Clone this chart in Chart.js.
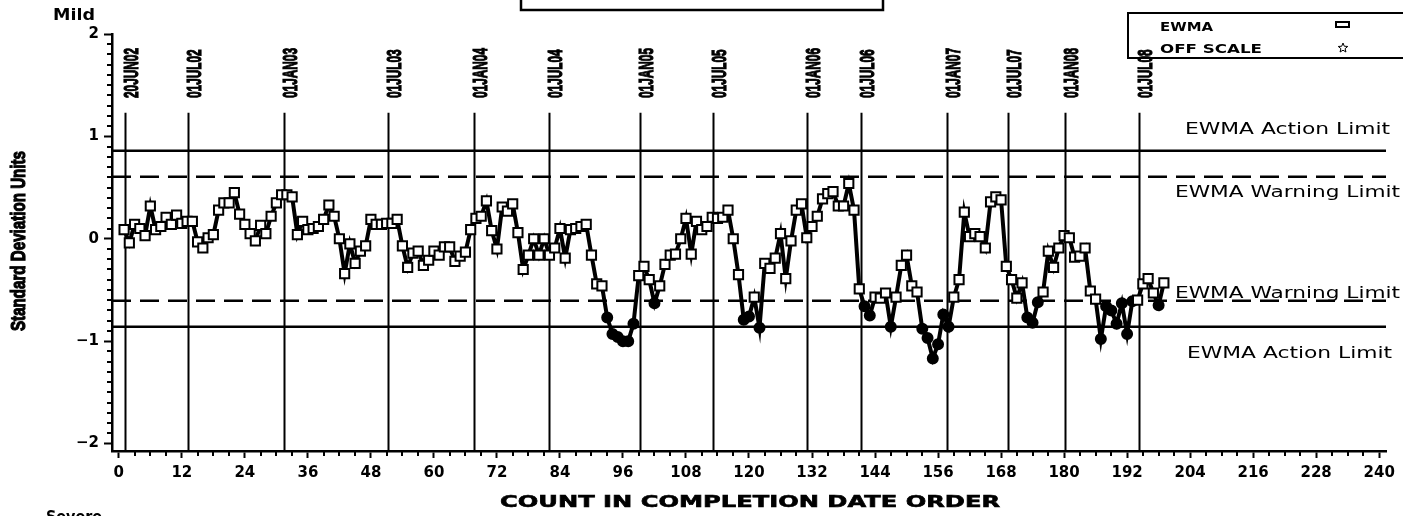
<!DOCTYPE html>
<html><head><meta charset="utf-8">
<script src="https://cdn.jsdelivr.net/npm/chart.js@4.4.1/dist/chart.umd.min.js"></script>
<style>html,body{margin:0;padding:0;background:#fff;overflow:hidden}#wrap{width:1403px;height:516px;position:relative}</style>
</head><body><div id="wrap"><canvas id="c" width="1403" height="516"></canvas></div>
<script>
// ---- data ----
const ewmaValues = [
 0.09,-0.04,0.14,0.10,0.03,0.32,0.09,0.12,0.21,0.14,
 0.23,0.15,0.17,0.17,-0.03,-0.09,0.01,0.04,0.28,0.35,
 0.35,0.45,0.24,0.14,0.05,-0.02,0.13,0.05,0.22,0.35,
 0.43,0.43,0.41,0.04,0.17,0.09,0.10,0.12,0.19,0.33,
 0.22,0.00,-0.34,-0.05,-0.24,-0.12,-0.07,0.19,0.14,0.14,
 0.15,0.15,0.19,-0.07,-0.28,-0.14,-0.12,-0.26,-0.21,-0.12,
 -0.16,-0.08,-0.08,-0.22,-0.17,-0.13,0.09,0.20,0.22,0.37,
 0.08,-0.10,0.31,0.27,0.34,0.06,-0.30,-0.16,0.00,-0.16,
 0.00,-0.16,-0.09,0.10,-0.19,0.09,0.10,0.12,0.14,-0.16,
 -0.44,-0.46,-0.77,-0.93,-0.96,-1.00,-1.00,-0.83,-0.36,-0.27,
 -0.40,-0.63,-0.46,-0.25,-0.16,-0.15,0.00,0.20,-0.15,0.17,
 0.09,0.12,0.21,0.20,0.21,0.28,0.00,-0.35,-0.79,-0.76,
 -0.57,-0.87,-0.24,-0.29,-0.19,0.05,-0.39,-0.02,0.28,0.34,
 0.01,0.12,0.22,0.39,0.44,0.46,0.32,0.32,0.54,0.28,
 -0.49,-0.66,-0.75,-0.57,-0.58,-0.53,-0.86,-0.57,-0.26,-0.16,
 -0.46,-0.52,-0.88,-0.97,-1.17,-1.03,-0.74,-0.86,-0.57,-0.40,
 0.26,0.02,0.05,0.02,-0.09,0.36,0.41,0.38,-0.27,-0.40,
 -0.58,-0.43,-0.77,-0.82,-0.62,-0.52,-0.12,-0.28,-0.09,0.03,
 0.01,-0.18,-0.17,-0.09,-0.51,-0.59,-0.98,-0.66,-0.70,-0.83,
 -0.63,-0.93,-0.61,-0.60,-0.44,-0.39,-0.53,-0.65,-0.43
];
const xTickValues = [0,12,24,36,48,60,72,84,96,108,120,132,144,156,168,180,192,204,216,228,240];
const yTickValues = [-2,-1,0,1,2];
const dateLabels = ['20JUN02','01JUL02','01JAN03','01JUL03','01JAN04','01JUL04','01JAN05','01JUL05','01JAN06','01JUL06','01JAN07','01JUL07','01JAN08','01JUL08'];
const dateCounts = [1.1,13.1,31.5,51.2,67.6,82,99.3,113.2,131,141.3,157.7,169.4,180.2,194.3];
const actionLimit = 0.86;
const warningLimit = 0.605;
const limitLabels = ['EWMA Action Limit','EWMA Warning Limit','EWMA Warning Limit','EWMA Action Limit'];
const legendLabels = ['EWMA','OFF SCALE'];
const xTitle = 'COUNT IN COMPLETION DATE ORDER';
const yTitle = 'Standard Deviation Units';

const X_MIN = -1.3, X_MAX = 241.3, Y_MIN = -2.073, Y_MAX = 2.0;

function fitText(ctx, text, x, y, font, width, align, baseline, rot, heavy) {
  ctx.save();
  ctx.translate(x, y);
  if (rot) ctx.rotate(rot);
  ctx.font = font;
  const w = ctx.measureText(text).width;
  ctx.scale(width / w, 1);
  ctx.textAlign = align; ctx.textBaseline = baseline;
  ctx.fillStyle = '#000';
  ctx.fillText(text, 0, 0);
  if (heavy) { ctx.strokeStyle = '#000'; ctx.lineWidth = heavy; ctx.strokeText(text, 0, 0); }
  ctx.restore();
}

const isOut = v => v < -warningLimit || v > warningLimit;

const decor = {
  id: 'decor',
  beforeDatasetsDraw(chart) {
    const ctx = chart.ctx, xs = chart.scales.x, ys = chart.scales.y, ca = chart.chartArea;
    ctx.save();
    // minor ticks
    ctx.strokeStyle = '#000'; ctx.lineWidth = 2;
    ctx.beginPath();
    for (let v = 3; v < 241; v += 3) {
      if (v % 12 === 0) continue;
      const px = Math.round(xs.getPixelForValue(v));
      ctx.moveTo(px, ca.bottom); ctx.lineTo(px, ca.bottom + 5);
    }
    for (let k = -20; k <= 20; k++) {
      if (k % 10 === 0) continue;
      const py = Math.round(ys.getPixelForValue(k / 10));
      ctx.moveTo(ca.left, py); ctx.lineTo(ca.left - 5, py);
    }
    ctx.stroke();
    // date reference lines
    const topY = ys.getPixelForValue(1.23);
    ctx.lineWidth = 2;
    dateCounts.forEach((c, i) => {
      const px = Math.round(xs.getPixelForValue(c)) + 0.5;
      ctx.beginPath(); ctx.moveTo(px, topY); ctx.lineTo(px, ca.bottom); ctx.stroke();
    });
    // limit labels
    const lf = '16px "DejaVu Sans"';
    const rx = ca.right + 4;
    fitText(ctx, limitLabels[0], rx, ys.getPixelForValue(actionLimit) - 21, lf, 205, 'right', 'middle');
    fitText(ctx, limitLabels[1], rx + 10, ys.getPixelForValue(warningLimit) + 16, lf, 225, 'right', 'middle');
    fitText(ctx, limitLabels[2], rx + 10, ys.getPixelForValue(-warningLimit) - 7, lf, 225, 'right', 'middle');
    fitText(ctx, limitLabels[3], rx + 2, ys.getPixelForValue(-actionLimit) + 27, lf, 205, 'right', 'middle');
    ctx.restore();
  },
  afterDraw(chart) {
    const ctx = chart.ctx, xs = chart.scales.x, ys = chart.scales.y, ca = chart.chartArea;
    ctx.save();
    ctx.fillStyle = '#000'; ctx.strokeStyle = '#000';
    // legend box
    ctx.lineWidth = 2;
    ctx.strokeRect(1128, 13, 290, 45);
    fitText(ctx, legendLabels[0], 1160, 28, 'bold 12px "DejaVu Sans"', 53, 'left', 'middle');
    fitText(ctx, legendLabels[1], 1160, 50, 'bold 12px "DejaVu Sans"', 102, 'left', 'middle');
    ctx.lineWidth = 2;
    ctx.strokeRect(1336, 22, 13, 5);
    // star
    ctx.lineWidth = 1;
    ctx.beginPath();
    const scx = 1343, scy = 48;
    for (let i = 0; i < 10; i++) {
      const r = i % 2 === 0 ? 5 : 2.2;
      const a = -Math.PI / 2 + i * Math.PI / 5;
      const px = scx + r * Math.cos(a), py = scy + r * Math.sin(a);
      i === 0 ? ctx.moveTo(px, py) : ctx.lineTo(px, py);
    }
    ctx.closePath(); ctx.stroke();
    // top title box (cut off)
    ctx.lineWidth = 2.5;
    ctx.beginPath();
    ctx.moveTo(521, -5); ctx.lineTo(521, 10); ctx.lineTo(883, 10); ctx.lineTo(883, -5);
    ctx.stroke();
    // date labels (condensed, heavy)
    ctx.font = 'bold 21px "Liberation Sans"';
    const sc = 50 / ctx.measureText('01JAN03').width;
    dateCounts.forEach((c, i) => {
      const px = xs.getPixelForValue(c) + 13;
      ctx.save();
      ctx.translate(px, 98);
      ctx.rotate(-Math.PI / 2);
      ctx.scale(sc, 1);
      ctx.textAlign = 'left'; ctx.textBaseline = 'alphabetic';
      ctx.fillText(dateLabels[i], 0, 0);
      ctx.lineWidth = 1.2; ctx.strokeText(dateLabels[i], 0, 0);
      ctx.restore();
    });
    // Mild / Severe
    fitText(ctx, 'Mild', 53, 16, 'bold 15px "DejaVu Sans"', 42, 'left', 'middle');
    fitText(ctx, 'Severe', 46, 518, 'bold 15px "DejaVu Sans"', 56, 'left', 'middle');
    // axis titles
    fitText(ctx, xTitle, (ca.left + ca.right) / 2 + 1, 503, 'bold 16px "DejaVu Sans"', 500, 'center', 'middle', 0, 0.6);
    fitText(ctx, yTitle, 25, 241, 'bold 21px "Liberation Sans"', 180, 'center', 'alphabetic', -Math.PI / 2, 1.2);
    ctx.restore();
  }
};

const hline = (y, dash) => ({
  data: [{x: X_MIN, y: y}, {x: X_MAX + 0.4, y: y}],
  borderColor: '#000', borderWidth: 2.5, borderDash: dash, pointRadius: 0, fill: false, order: 2
});

new Chart(document.getElementById('c'), {
  type: 'line',
  data: {
    datasets: [
      {
        label: 'EWMA',
        data: ewmaValues.map((v, i) => ({x: i + 1, y: v})),
        borderColor: '#000', borderWidth: 4, tension: 0, order: 0,
        pointStyle: c => isOut(c.raw.y) ? 'circle' : 'rect',
        pointRadius: c => isOut(c.raw.y) ? 5 : 6.5,
        pointBackgroundColor: c => isOut(c.raw.y) ? '#000' : '#fff',
        pointBorderColor: '#000', pointBorderWidth: 2
      },
      hline(actionLimit, []), hline(warningLimit, [19, 9]),
      hline(-warningLimit, [19, 9]), hline(-actionLimit, [])
    ]
  },
  options: {
    responsive: false, animation: false, devicePixelRatio: 1,
    layout: {padding: {top: 34, right: 17, left: 0, bottom: 0}},
    plugins: {legend: {display: false}, tooltip: {enabled: false}},
    scales: {
      x: {
        type: 'linear', min: X_MIN, max: X_MAX,
        afterBuildTicks: s => { s.ticks = xTickValues.map(v => ({value: v})); },
        afterFit: s => { s.height = 65; },
        grid: {drawOnChartArea: false, tickLength: 7, tickWidth: 2, tickColor: '#000'},
        border: {color: '#000', width: 2.5},
        ticks: {color: '#000', font: {family: 'DejaVu Sans', weight: 'bold', size: 15}, padding: 6, maxRotation: 0, autoSkip: false}
      },
      y: {
        type: 'linear', min: Y_MIN, max: Y_MAX,
        afterBuildTicks: s => { s.ticks = yTickValues.map(v => ({value: v})); },
        afterFit: s => { s.width = 112; },
        grid: {drawOnChartArea: false, tickLength: 8, tickWidth: 2, tickColor: '#000'},
        border: {color: '#000', width: 2.5},
        ticks: {color: '#000', font: {family: 'DejaVu Sans', weight: 'bold', size: 15}, padding: 5,
          callback: v => v < 0 ? '\u2212' + Math.abs(v) : String(v)}
      }
    }
  },
  plugins: [decor]
});
</script></body></html>
